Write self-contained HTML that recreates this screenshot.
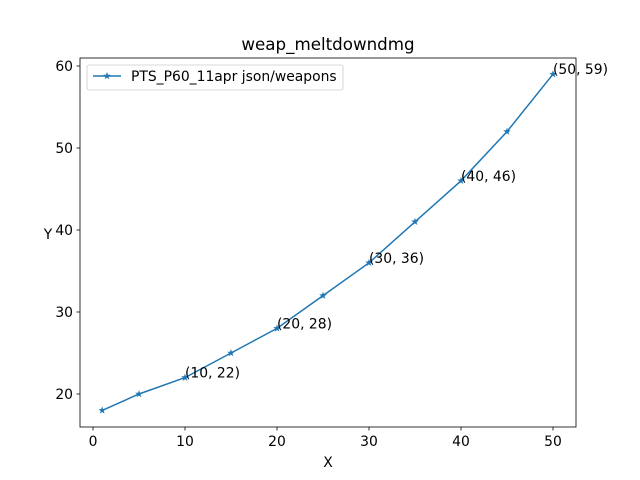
<!DOCTYPE html>
<html><head><meta charset="utf-8"><style>body{margin:0;background:#fff}svg{display:block;font-family:"DejaVu Sans","Liberation Sans",sans-serif}</style></head>
<body>
<svg id="c" width="640" height="480">
<rect x="0" y="0" width="640" height="480" fill="#fff"/>
</svg>
<script>
const xs=[1,5,10,15,20,25,30,35,40,45,50];
const ys=[18,20,22,25,28,32,36,41,46,52,59];
const labelIdx=[2,4,6,8,10];
const labelText=["(10, 22)","(20, 28)","(30, 36)","(40, 46)","(50, 59)"];
const xTicks=[0,10,20,30,40,50];
const yTicks=[20,30,40,50,60];
const L=80,R=576,T=58,B=427;
const X=v=>93+(v-0)*9.2;
const Y=v=>394-(v-20)*8.2;
const svg=document.getElementById('c');
const NS='http://www.w3.org/2000/svg';
function mk(t,a,p){const e=document.createElementNS(NS,t);for(const k in a)e.setAttribute(k,a[k]);(p||svg).appendChild(e);return e;}
function star(cx,cy,r){let p=[];for(let i=0;i<10;i++){const rr=i%2?r*0.4:r;const a=-Math.PI/2+i*Math.PI/5;p.push((cx+rr*Math.cos(a)).toFixed(2)+','+(cy+rr*Math.sin(a)).toFixed(2));}return p.join(' ');}
const ax=mk('rect',{x:L,y:T,width:R-L,height:B-T,fill:'none',stroke:'#000','stroke-width':0.8});


xTicks.forEach(v=>{
 const l=mk('line',{x1:X(v),x2:X(v),y1:B,y2:B+3.5,stroke:'#000','stroke-width':0.8});
 
 
 const t=mk('text',{x:X(v),y:B+19,'font-size':13.9,'text-anchor':'middle'});t.textContent=v;
 
 
});
yTicks.forEach(v=>{
 const l=mk('line',{x1:L-3.5,x2:L,y1:Y(v),y2:Y(v),stroke:'#000','stroke-width':0.8});
 
 
 const t=mk('text',{x:L-7,y:Y(v)+5,'font-size':13.9,'text-anchor':'end'});t.textContent=v;
 
 
});
const ln=mk('polyline',{points:xs.map((x,i)=>X(x)+','+Y(ys[i])).join(' '),fill:'none',stroke:'#1f77b4','stroke-width':1.5});


xs.forEach((x,i)=>{
 const m=mk('polygon',{points:star(X(x),Y(ys[i]),4),fill:'#1f77b4'});
 
 
});
labelIdx.forEach((k,j)=>{
 const t=mk('text',{x:X(xs[k]),y:Y(ys[k])+0,'font-size':13.9});t.textContent=labelText[j];
 
 
});
const ti=mk('text',{x:328,y:50,'font-size':16.7,'text-anchor':'middle'});ti.textContent='weap_meltdowndmg';


const xl=mk('text',{x:328,y:467,'font-size':13.9,'text-anchor':'middle'});xl.textContent='X';


const yl=mk('text',{x:48,y:239,'font-size':13.9,'text-anchor':'middle'});yl.textContent='Y';


const lg=mk('g',{});


mk('rect',{x:87,y:65,width:256,height:25,rx:2,fill:'#fff',stroke:'#ccc','stroke-width':0.8},lg);
mk('line',{x1:93,x2:121,y1:76,y2:76,stroke:'#1f77b4','stroke-width':1.5},lg);
mk('polygon',{points:star(107,76,4),fill:'#1f77b4'},lg);
const lt=mk('text',{x:131,y:81,'font-size':13.9},lg);lt.textContent='PTS_P60_11apr json/weapons';


</script>
</body></html>
